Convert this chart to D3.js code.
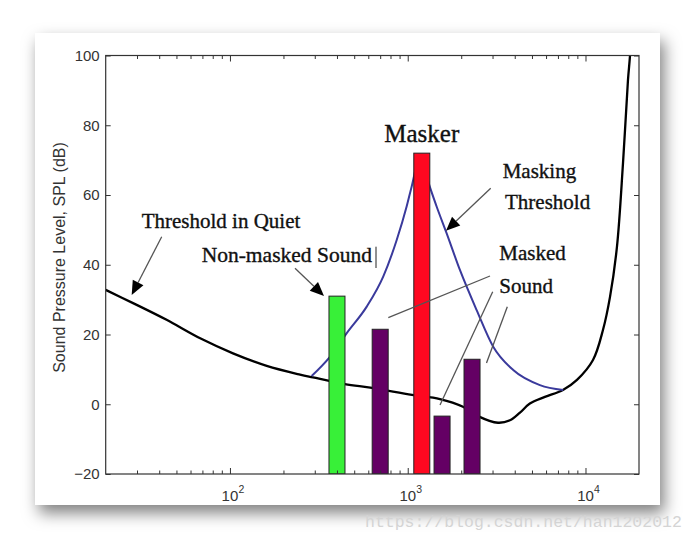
<!DOCTYPE html>
<html><head><meta charset="utf-8">
<script src="https://cdn.jsdelivr.net/npm/d3@7"></script>
<style>html,body{margin:0;padding:0;background:#fff;} svg{display:block;}</style>
</head><body>
<svg id="chart" width="696" height="541"></svg>
<script>
// ---- data ----
const quietFreq = [20, 28.5, 44, 68, 104, 161, 248, 293, 443, 630, 1057, 1518, 2045, 2484, 3219, 3758, 4281, 4866, 5914, 7467, 8956, 11020, 12540, 13740, 15030, 16260, 17340, 17780, 18300];
const quietDb   = [32.8, 29.0, 24.2, 18.9, 14.6, 11.0, 8.5, 7.7, 5.8, 4.7, 2.7, 1.5, -0.7, -3.4, -5.3, -4.6, -2.4, 0.2, 2.1, 4.1, 7.0, 12.7, 21.3, 30.8, 45.1, 69.2, 93.0, 99.6, 110];
const maskFreq = [288, 365, 454, 588, 728, 867, 986, 1052, 1180, 1321, 1454, 1656, 1966, 2442, 3027, 3922, 5542, 7494];
const maskDb   = [8.1, 13.6, 20.4, 28.0, 36.6, 47.1, 56.7, 62.4, 71.5, 62.9, 56.7, 49.0, 38.5, 27.0, 16.5, 9.8, 5.5, 4.1];
const barFreq = [400, 700, 1200, 1560, 2300];
const barDb   = [31, 21.5, 72, -3.4, 12.9];
const barKind = ["non-masked", "masked", "masker", "masked", "masked"];
const yTicks = [-20, 0, 20, 40, 60, 80, 100];
const xMajorTicks = [100, 1000, 10000];
const xMajorExp = ["2", "3", "4"];
const xMinorTicks = [30, 40, 50, 60, 70, 80, 90, 200, 300, 400, 500, 600, 700, 800, 900, 2000, 3000, 4000, 5000, 6000, 7000, 8000, 9000];
const yTitle = "Sound Pressure Level, SPL (dB)";
const watermark = "https://blog.csdn.net/han1202012";

// ---- styles ----
const kindColor = {"non-masked": "#38f038", "masked": "#640064", "masker": "#ff0820"};

const svg = d3.select("#chart");
const defs = svg.append("defs");
const f = defs.append("filter").attr("id", "shadow").attr("x", "-10%").attr("y", "-10%").attr("width", "125%").attr("height", "130%");
f.append("feDropShadow").attr("dx", 4).attr("dy", 8).attr("stdDeviation", 8).attr("flood-color", "#000").attr("flood-opacity", 0.5);

svg.append("rect").attr("x", 35).attr("y", 33).attr("width", 625).attr("height", 472)
  .attr("fill", "#fff").attr("filter", "url(#shadow)");

const x = d3.scaleLog().domain([20, 20000]).range([105.7, 639]);
const y = d3.scaleLinear().domain([-20, 100]).range([474, 55.5]);

defs.append("clipPath").attr("id", "plot").append("rect")
  .attr("x", 105.7).attr("y", 55.5).attr("width", 639 - 105.7).attr("height", 474 - 55.5);

const smoothLine = d3.line().x(d => x(d[0])).y(d => y(d[1])).curve(d3.curveCatmullRom.alpha(0.5));
const maskLine = d3.line().x(d => x(d[0])).y(d => y(d[1])).curve(d3.curveMonotoneX);
const gPlot = svg.append("g").attr("clip-path", "url(#plot)");

gPlot.append("path").datum(quietFreq.map((fq, i) => [fq, quietDb[i]]))
  .attr("d", smoothLine).attr("fill", "none").attr("stroke", "#000").attr("stroke-width", 2.3);
gPlot.append("path").datum(maskFreq.map((fq, i) => [fq, maskDb[i]]))
  .attr("d", maskLine).attr("fill", "none").attr("stroke", "#3a3a9c").attr("stroke-width", 2);

const barW = 16;
gPlot.selectAll("rect.bar").data(barFreq.map((fq, i) => ({f: fq, v: barDb[i], k: barKind[i]})))
  .join("rect").attr("class", "bar")
  .attr("x", d => x(d.f) - barW / 2).attr("width", barW)
  .attr("y", d => y(d.v)).attr("height", d => y(-20) - y(d.v))
  .attr("fill", d => kindColor[d.k]).attr("stroke", "#222").attr("stroke-width", 1);

// ---- axes ----
const axisColor = "#333";
function styleAxis(g) {
  g.select(".domain").remove();
  g.selectAll("line").attr("stroke", axisColor);
  g.selectAll("text").attr("fill", "#333").attr("font-family", "Liberation Sans, Arial, sans-serif").attr("font-size", 15);
}
svg.append("g").attr("transform", "translate(105.7,0)")
  .call(d3.axisLeft(y).tickValues(yTicks).tickSizeInner(-5).tickSizeOuter(0).tickPadding(6)).call(styleAxis);
svg.append("g").attr("transform", "translate(639,0)")
  .call(d3.axisRight(y).tickValues(yTicks).tickSizeInner(-5).tickSizeOuter(0).tickFormat("")).call(styleAxis);
svg.append("g").attr("transform", "translate(0,474)")
  .call(d3.axisBottom(x).tickValues(xMinorTicks).tickSizeInner(-3.5).tickSizeOuter(0).tickFormat("")).call(styleAxis);
svg.append("g").attr("transform", "translate(0,474)")
  .call(d3.axisBottom(x).tickValues(xMajorTicks).tickSizeInner(-6).tickSizeOuter(0).tickFormat("")).call(styleAxis);
svg.append("g").attr("transform", "translate(0,55.5)")
  .call(d3.axisTop(x).tickValues(xMinorTicks).tickSizeInner(-3.5).tickSizeOuter(0).tickFormat("")).call(styleAxis);
svg.append("g").attr("transform", "translate(0,55.5)")
  .call(d3.axisTop(x).tickValues(xMajorTicks).tickSizeInner(-6).tickSizeOuter(0).tickFormat("")).call(styleAxis);

svg.append("rect").attr("x", 105.7).attr("y", 55.5).attr("width", 639 - 105.7).attr("height", 474 - 55.5)
  .attr("fill", "none").attr("stroke", axisColor).attr("stroke-width", 1.2);

const xl = svg.append("g").attr("font-family", "Liberation Sans, Arial, sans-serif").attr("fill", "#333");
xMajorTicks.forEach((v, i) => {
  xl.append("text").attr("x", x(v)).attr("y", 501).attr("text-anchor", "middle").attr("font-size", 15).text("10");
  xl.append("text").attr("x", x(v) + 8.5).attr("y", 493).attr("font-size", 10.5).text(xMajorExp[i]);
});

svg.append("text").attr("transform", "translate(65,257.5) rotate(-90)").attr("text-anchor", "middle")
  .attr("font-family", "Liberation Sans, Arial, sans-serif").attr("font-size", 16).attr("fill", "#333").text(yTitle);

// ---- annotations ----
const serif = "Liberation Serif, Times New Roman, serif";
const notes = [
  {t: "Threshold in Quiet", x: 141.7, y: 228.3, s: 21},
  {t: "Non-masked Sound", x: 201.7, y: 261.7, s: 21.5},
  {t: "Masking", x: 502.7, y: 177.7, s: 21},
  {t: "Threshold", x: 505, y: 209.3, s: 21},
  {t: "Masked", x: 499.3, y: 260, s: 21},
  {t: "Sound", x: 499.3, y: 292.7, s: 21}
];
const ga = svg.append("g").attr("font-family", serif).attr("fill", "#111").attr("stroke", "#111").attr("stroke-width", 0.35);
notes.forEach(n => ga.append("text").attr("x", n.x).attr("y", n.y).attr("font-size", n.s).text(n.t));
ga.append("text").attr("x", x(barFreq[2])).attr("y", y(75.1)).attr("text-anchor", "middle").attr("font-size", 25).text("Masker");

svg.append("line").attr("x1", 376).attr("x2", 376).attr("y1", 246.7).attr("y2", 268).attr("stroke", "#222").attr("stroke-width", 1);

const arrows = [
  {x1: 161.7, y1: 236.7, x2: 131.7, y2: 295, head: true},
  {x1: 295, y1: 268.3, x2: 324, y2: 296, head: true},
  {x1: 490.7, y1: 188.3, x2: 446, y2: 230.7, head: true},
  {x1: 490, y1: 276, x2: 388.3, y2: 317.7, head: false},
  {x1: 492.7, y1: 291.7, x2: 440, y2: 405, head: false},
  {x1: 507.3, y1: 306.7, x2: 486.5, y2: 363, head: false}
];
const gArr = svg.append("g");
arrows.forEach(a => {
  const dx = a.x2 - a.x1, dy = a.y2 - a.y1, L = Math.hypot(dx, dy);
  const ux = dx / L, uy = dy / L, nx = -uy, ny = ux;
  const hl = 14, hw = 6;
  const endX = a.head ? a.x2 - ux * hl : a.x2, endY = a.head ? a.y2 - uy * hl : a.y2;
  gArr.append("line").attr("x1", a.x1).attr("y1", a.y1).attr("x2", endX).attr("y2", endY)
    .attr("stroke", "#555").attr("stroke-width", 1.3);
  if (a.head) {
    const bx = a.x2 - ux * hl, by = a.y2 - uy * hl;
    gArr.append("path").attr("d", `M${a.x2},${a.y2}L${bx + nx * hw},${by + ny * hw}L${bx - nx * hw},${by - ny * hw}Z`).attr("fill", "#000");
  }
});

svg.append("text").attr("x", 365).attr("y", 527).attr("font-family", "Liberation Mono, DejaVu Sans Mono, monospace")
  .attr("font-size", 16.5).attr("fill", "#d4d4d4").text(watermark);
</script>
</body></html>
